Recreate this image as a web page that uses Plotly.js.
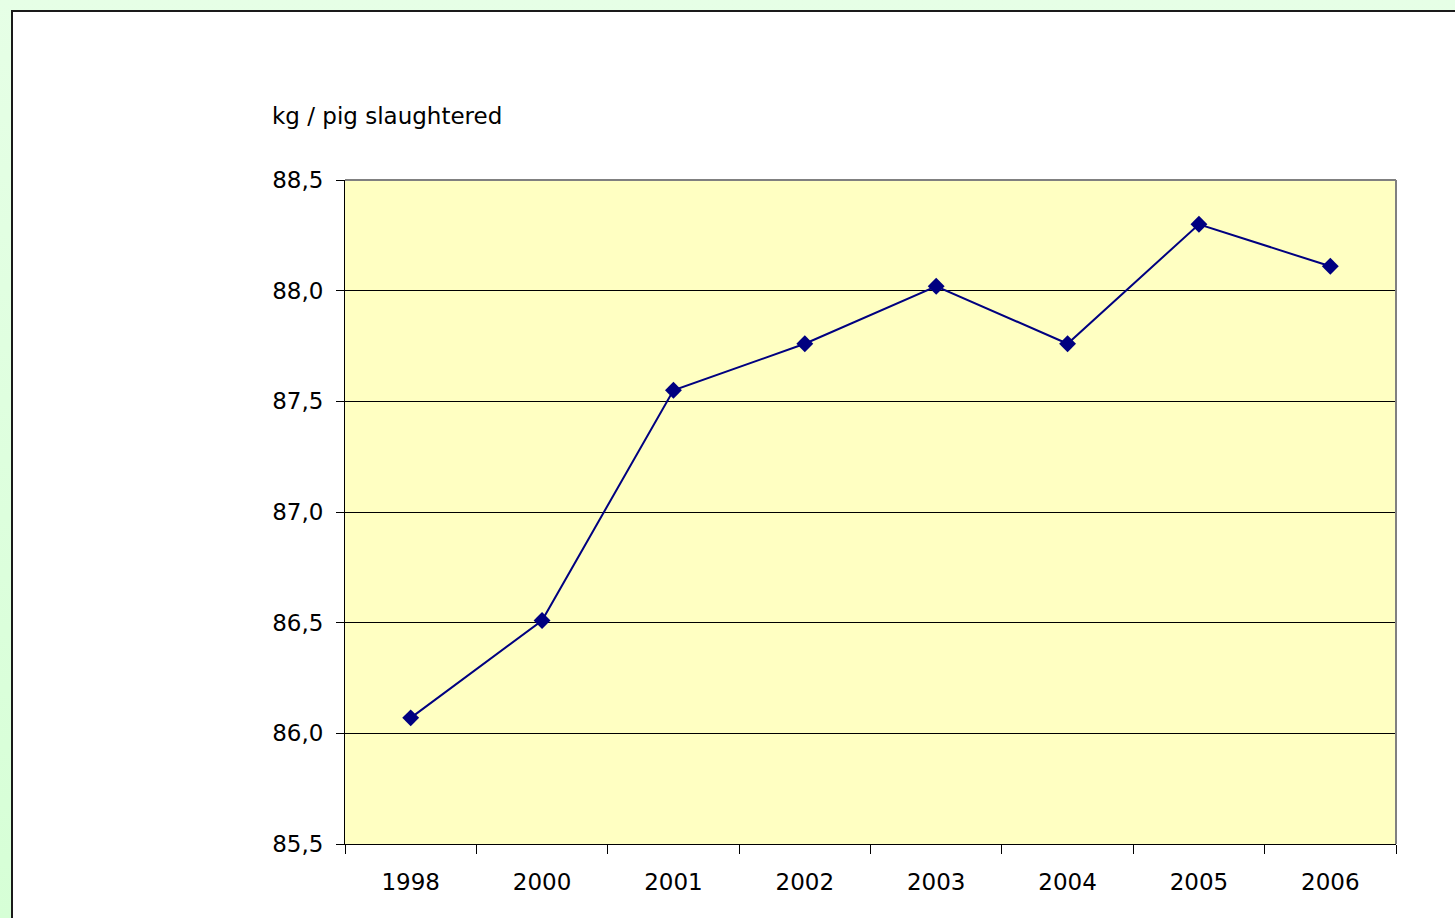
<!DOCTYPE html>
<html>
<head>
<meta charset="utf-8">
<script src="https://cdn.plot.ly/plotly-3.0.1.min.js"></script>
<style>
  html, body { margin: 0; padding: 0; width: 1455px; height: 918px; overflow: hidden; }
  body { background: linear-gradient(to bottom, #e6ffe6 0%, #d6ffd6 100%); position: relative; }
  #frame { position: absolute; left: 11px; top: 10px; width: 1460px; height: 920px;
           background: #ffffff; border-left: 2px solid #1a1a1a; border-top: 2px solid #1a1a1a; }
  #chart { position: absolute; left: 0; top: 0; width: 1455px; height: 918px; }
</style>
</head>
<body>
<div id="frame"></div>
<div id="chart"></div>
<script>
const years = ["1998", "2000", "2001", "2002", "2003", "2004", "2005", "2006"];
const kgPerPig = [86.07, 86.51, 87.55, 87.76, 88.02, 87.76, 88.30, 88.11];
const yTicks = [85.5, 86.0, 86.5, 87.0, 87.5, 88.0, 88.5];
const yAxisLabel = "kg / pig slaughtered";

const font = { family: "DejaVu Sans, Arial, sans-serif", size: 23, color: "#000000" };

const trace = {
  type: "scatter",
  mode: "lines+markers",
  x: years,
  y: kgPerPig,
  line: { color: "#000080", width: 2 },
  marker: { symbol: "diamond", size: 13, color: "#000080" },
  hoverinfo: "x+y"
};

const layout = {
  width: 1455,
  height: 918,
  margin: { l: 345, r: 59, t: 180, b: 74 },
  paper_bgcolor: "rgba(0,0,0,0)",
  plot_bgcolor: "#ffffc2",
  separators: ",.",
  showlegend: false,
  font: font,
  xaxis: {
    type: "category",
    tickson: "boundaries",
    ticks: "outside",
    ticklen: 9,
    tickwidth: 1,
    tickcolor: "#000000",
    showline: true,
    linecolor: "#000000",
    linewidth: 1,
    showgrid: false,
    zeroline: false,
    tickfont: font,
    ticklabelstandoff: 17,
    range: [-0.5, 7.5]
  },
  yaxis: {
    range: [85.5, 88.5],
    tickvals: yTicks,
    tickformat: ".1f",
    ticks: "outside",
    ticklen: 8,
    tickwidth: 1,
    tickcolor: "#000000",
    showline: true,
    linecolor: "#000000",
    linewidth: 1,
    showgrid: true,
    gridcolor: "#000000",
    gridwidth: 1,
    zeroline: false,
    tickfont: font,
    ticklabelstandoff: 8
  },
  shapes: [
    { type: "line", xref: "paper", yref: "paper", x0: 0, x1: 1, y0: 1, y1: 1,
      line: { color: "#808080", width: 2 } },
    { type: "line", xref: "paper", yref: "paper", x0: 1, x1: 1, y0: 0, y1: 1,
      line: { color: "#808080", width: 2 } }
  ],
  annotations: [
    { text: yAxisLabel, xref: "paper", yref: "paper", x: -0.0714, y: 1.097,
      xanchor: "left", yanchor: "middle", showarrow: false, font: font }
  ]
};

Plotly.newPlot("chart", [trace], layout, { displayModeBar: false, staticPlot: true });
</script>
</body>
</html>
